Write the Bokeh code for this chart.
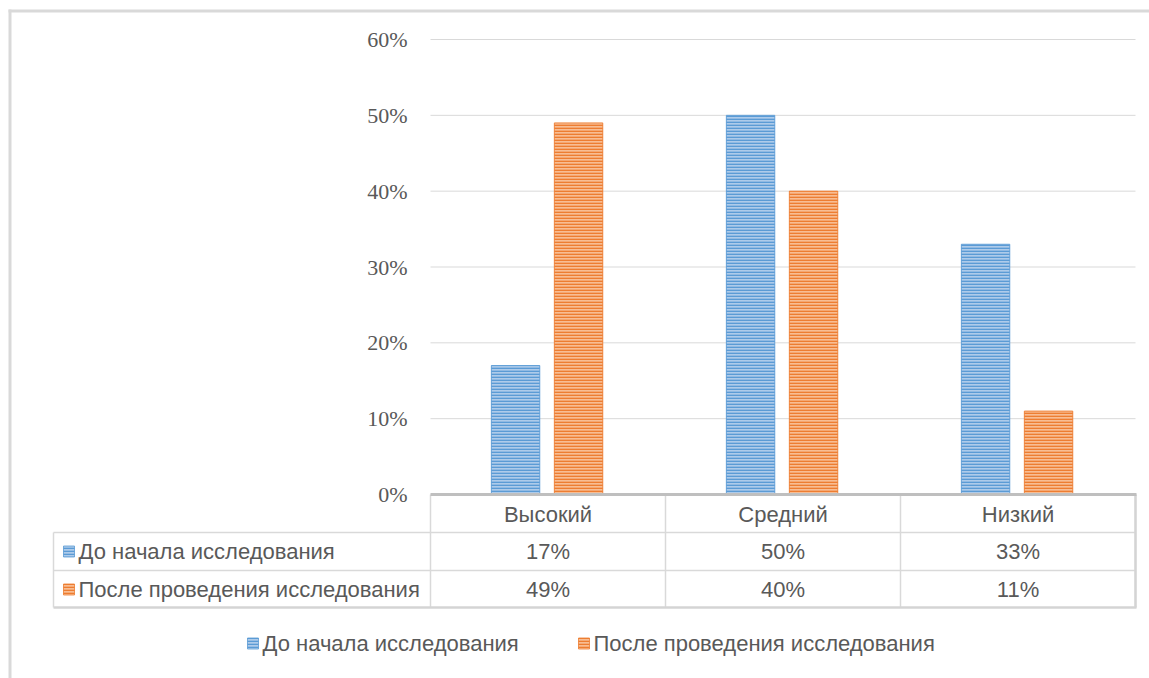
from bokeh.plotting import figure
from bokeh.models import Range1d
from bokeh.core.properties import value
from bokeh.embed import file_html
from bokeh.resources import INLINE

# ---- data ----
categories = ["Высокий", "Средний", "Низкий"]
series_names = ["До начала исследования", "После проведения исследования"]
before = [17, 50, 33]
after = [49, 40, 11]
y_ticks = [0, 10, 20, 30, 40, 50, 60]
y_tick_labels = ["0%", "10%", "20%", "30%", "40%", "50%", "60%"]

# ---- layout constants (pixels) ----
W, H = 1149, 678
PL, PR = 430, 1135          # plot area left / right
YTOP, Y0 = 39, 494          # pixel of 60% and 0%
YMAX = 60
TBL_L = 53
ROW_H = [494, 532, 570, 607]
HEADER_Y, ROW1_Y, ROW2_Y = 514, 551, 589
LEG_Y = 643
TEXT_COLOR = "#595959"
SANS = value("Liberation Sans")
SERIF = value("Liberation Serif")

BLUE_LINE, BLUE_FILL = "#5b9bd5", "#aecbea"
ORNG_LINE, ORNG_FILL = "#ed7d31", "#f8bd93"

n = len(categories)
unit = (PR - PL) / n
cat_start = -0.5 - PL / unit
cat_end = cat_start + W / unit
scale = YMAX / (Y0 - YTOP)
pct_start = -(H - Y0) * scale
pct_end = YMAX + YTOP * scale

p = figure(width=W, height=H, x_range=Range1d(0, W), y_range=Range1d(H, 0),
           min_border=0, toolbar_location=None, output_backend="svg",
           x_axis_location=None, y_axis_location=None)
p.grid.visible = False
p.outline_line_color = None
p.background_fill_color = "white"
p.border_fill_color = "white"
p.extra_x_ranges = {"cat": Range1d(cat_start, cat_end)}
p.extra_y_ranges = {"pct": Range1d(pct_start, pct_end)}

# outer border (top + left)
p.segment(x0=[8, 9.5], y0=[10.5, 9], x1=[W, 9.5], y1=[10.5, H],
          line_color="#d9d9d9", line_width=3)

# gridlines
grid_ticks = [t for t in y_ticks if t > 0]
p.segment(x0=[PL] * len(grid_ticks), x1=[PR] * len(grid_ticks),
          y0=grid_ticks, y1=grid_ticks, y_range_name="pct",
          line_color="#d9d9d9", line_width=1)

# y tick labels
p.text(x=[407] * len(y_ticks), y=y_ticks, text=y_tick_labels, y_range_name="pct",
       text_align="right", text_baseline="middle", text_color=TEXT_COLOR,
       text_font=SERIF, text_font_size="22px")

# bars
offset, bw = 0.134, 0.206
xs = list(range(n))
p.vbar(x=[i - offset - 0.004 for i in xs], top=before, bottom=0, width=bw,
       x_range_name="cat", y_range_name="pct",
       fill_color=BLUE_FILL, line_color=BLUE_LINE, line_width=1, line_alpha=0.9,
       hatch_pattern="horizontal_line", hatch_color=BLUE_LINE, hatch_scale=3,
       hatch_weight=1.7)
p.vbar(x=[i + offset - 0.004 for i in xs], top=after, bottom=0, width=bw,
       x_range_name="cat", y_range_name="pct",
       fill_color=ORNG_FILL, line_color=ORNG_LINE, line_width=1, line_alpha=0.9,
       hatch_pattern="horizontal_line", hatch_color=ORNG_LINE, hatch_scale=3,
       hatch_weight=1.7)

# table lines
col_x = [PL + unit * i for i in range(n + 1)]
p.segment(x0=col_x, x1=col_x, y0=[ROW_H[0]] * len(col_x), y1=[ROW_H[3]] * len(col_x),
          line_color="#d9d9d9", line_width=1.5)
p.segment(x0=[TBL_L] * 2, x1=[PR] * 2, y0=ROW_H[1:3], y1=ROW_H[1:3],
          line_color="#d9d9d9", line_width=1.5)
p.segment(x0=[TBL_L], x1=[PR + 1], y0=[ROW_H[3]], y1=[ROW_H[3]],
          line_color="#d4d4d4", line_width=2.5)
p.segment(x0=[TBL_L], x1=[TBL_L], y0=[ROW_H[1]], y1=[ROW_H[3]],
          line_color="#d9d9d9", line_width=1.5)
p.segment(x0=[PR], x1=[PR], y0=[ROW_H[0]], y1=[ROW_H[3]],
          line_color="#d4d4d4", line_width=2.5)
# axis line (0%)
p.segment(x0=[PL], x1=[PR + 1], y0=[Y0], y1=[Y0], line_color="#bfbfbf", line_width=3)

# table header
p.text(x=xs, y=[HEADER_Y] * n, x_range_name="cat", text=categories,
       text_align="center", text_baseline="middle", text_color=TEXT_COLOR,
       text_font=SANS, text_font_size="22px")
# table values
p.text(x=xs, y=[ROW1_Y] * n, x_range_name="cat", text=[f"{v}%" for v in before],
       text_align="center", text_baseline="middle", text_color=TEXT_COLOR,
       text_font=SANS, text_font_size="22px")
p.text(x=xs, y=[ROW2_Y] * n, x_range_name="cat", text=[f"{v}%" for v in after],
       text_align="center", text_baseline="middle", text_color=TEXT_COLOR,
       text_font=SANS, text_font_size="22px")

# row labels with markers
MK = 11
p.rect(x=[68.5, 68.5], y=[ROW1_Y, ROW2_Y], width=MK, height=MK,
       fill_color=[BLUE_FILL, ORNG_FILL], line_color=[BLUE_LINE, ORNG_LINE], line_alpha=0.8,
       hatch_pattern="horizontal_line", hatch_color=[BLUE_LINE, ORNG_LINE],
       hatch_scale=3, hatch_weight=1.6)
p.text(x=[78, 78], y=[ROW1_Y, ROW2_Y], text=series_names,
       text_align="left", text_baseline="middle", text_color=TEXT_COLOR,
       text_font=SANS, text_font_size="22px")

# legend
p.rect(x=[252.5, 583.5], y=[LEG_Y, LEG_Y], width=MK, height=MK,
       fill_color=[BLUE_FILL, ORNG_FILL], line_color=[BLUE_LINE, ORNG_LINE], line_alpha=0.8,
       hatch_pattern="horizontal_line", hatch_color=[BLUE_LINE, ORNG_LINE],
       hatch_scale=3, hatch_weight=1.6)
p.text(x=[262, 593], y=[LEG_Y, LEG_Y], text=series_names,
       text_align="left", text_baseline="middle", text_color=TEXT_COLOR,
       text_font=SANS, text_font_size="22px")

open("out.html", "w").write(file_html(p, INLINE))
